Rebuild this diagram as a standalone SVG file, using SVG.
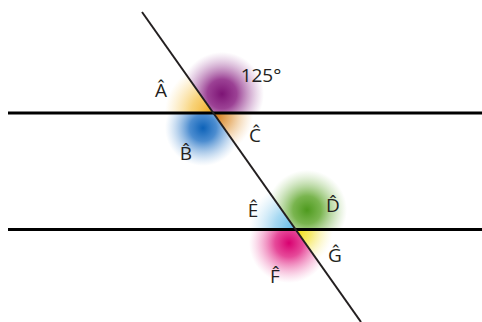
<svg xmlns="http://www.w3.org/2000/svg" width="482" height="322" viewBox="0 0 482 322">
<style>
.lbl{font-family:"Open Sans","Noto Sans","Liberation Sans",sans-serif;font-size:19px;fill:#231f20;text-anchor:middle}
.hline{stroke:#000;stroke-width:3}
.tline{stroke:#231f20;stroke-width:2}
</style>
<defs>
<clipPath id="cA"><polygon points="213,113 98,-50 0,-50 0,113"/></clipPath>
<clipPath id="c125"><polygon points="213,113 98,-50 482,-50 482,113"/></clipPath>
<clipPath id="cB"><polygon points="213,113 0,113 0,322 361,322"/></clipPath>
<clipPath id="cC"><polygon points="213,113 482,113 482,322 361,322"/></clipPath>
<clipPath id="cE"><polygon points="295,229 133,0 0,0 0,229"/></clipPath>
<clipPath id="cD"><polygon points="295,229 133,0 482,0 482,229"/></clipPath>
<clipPath id="cF"><polygon points="295,229 0,229 0,322 361,322"/></clipPath>
<clipPath id="cG"><polygon points="295,229 482,229 482,322 361,322"/></clipPath>
<radialGradient id="gA" gradientUnits="userSpaceOnUse" cx="213" cy="113" r="48"><stop offset="0" stop-color="#f0a81e"/><stop offset="0.45" stop-color="#f5c040" stop-opacity="0.7"/><stop offset="1" stop-color="#f8d070" stop-opacity="0"/></radialGradient>
<radialGradient id="g125" gradientUnits="userSpaceOnUse" cx="222" cy="94" r="42"><stop offset="0" stop-color="#7d1475"/><stop offset="0.35" stop-color="#8a2082" stop-opacity="0.85"/><stop offset="1" stop-color="#b070b0" stop-opacity="0"/></radialGradient>
<radialGradient id="gB" gradientUnits="userSpaceOnUse" cx="203" cy="128" r="38"><stop offset="0" stop-color="#0d62b8"/><stop offset="0.35" stop-color="#1f70c4" stop-opacity="0.8"/><stop offset="1" stop-color="#80b0e0" stop-opacity="0"/></radialGradient>
<radialGradient id="gC" gradientUnits="userSpaceOnUse" cx="217" cy="116" r="36"><stop offset="0" stop-color="#d6801e"/><stop offset="0.4" stop-color="#e09a45" stop-opacity="0.7"/><stop offset="1" stop-color="#f0c080" stop-opacity="0"/></radialGradient>
<radialGradient id="gE" gradientUnits="userSpaceOnUse" cx="295" cy="229" r="46"><stop offset="0" stop-color="#5ab8e6"/><stop offset="0.45" stop-color="#80c8ec" stop-opacity="0.7"/><stop offset="1" stop-color="#b0dcf4" stop-opacity="0"/></radialGradient>
<radialGradient id="gD" gradientUnits="userSpaceOnUse" cx="307" cy="210" r="40"><stop offset="0" stop-color="#4e9a1e"/><stop offset="0.35" stop-color="#62a830" stop-opacity="0.85"/><stop offset="1" stop-color="#a0cc80" stop-opacity="0"/></radialGradient>
<radialGradient id="gF" gradientUnits="userSpaceOnUse" cx="289" cy="243" r="40"><stop offset="0" stop-color="#d80070"/><stop offset="0.35" stop-color="#e01c80" stop-opacity="0.8"/><stop offset="1" stop-color="#f080b8" stop-opacity="0"/></radialGradient>
<radialGradient id="gG" gradientUnits="userSpaceOnUse" cx="297" cy="231" r="36"><stop offset="0" stop-color="#f0dc10"/><stop offset="0.4" stop-color="#f4e440" stop-opacity="0.75"/><stop offset="1" stop-color="#f8f0a0" stop-opacity="0"/></radialGradient>
</defs>
<rect width="482" height="322" fill="#fff"/>
<g id="angle-A"><circle cx="213" cy="113" r="50" fill="url(#gA)" clip-path="url(#cA)"/></g>
<g id="angle-125"><circle cx="222" cy="94" r="44" fill="url(#g125)" clip-path="url(#c125)"/></g>
<g id="angle-B"><circle cx="203" cy="128" r="40" fill="url(#gB)" clip-path="url(#cB)"/></g>
<g id="angle-C"><circle cx="217" cy="116" r="38" fill="url(#gC)" clip-path="url(#cC)"/></g>
<g id="angle-E"><circle cx="295" cy="229" r="48" fill="url(#gE)" clip-path="url(#cE)"/></g>
<g id="angle-D"><circle cx="307" cy="210" r="42" fill="url(#gD)" clip-path="url(#cD)"/></g>
<g id="angle-F"><circle cx="289" cy="243" r="42" fill="url(#gF)" clip-path="url(#cF)"/></g>
<g id="angle-G"><circle cx="297" cy="231" r="38" fill="url(#gG)" clip-path="url(#cG)"/></g>
<g id="lines">
<line class="hline" x1="8" y1="113" x2="482" y2="113"/>
<line class="hline" x1="8" y1="229.5" x2="482" y2="229.5"/>
<line class="tline" x1="142" y1="12" x2="361" y2="322"/>
</g>
<g id="labels">
<text class="lbl" x="161" y="97">Â</text>
<text class="lbl" x="261" y="82">125°</text>
<text class="lbl" x="186" y="160">B̂</text>
<text class="lbl" x="255" y="142">Ĉ</text>
<text class="lbl" x="253" y="217">Ê</text>
<text class="lbl" x="333" y="212">D̂</text>
<text class="lbl" x="275" y="283">F̂</text>
<text class="lbl" x="335" y="262">Ĝ</text>
</g>
</svg>
